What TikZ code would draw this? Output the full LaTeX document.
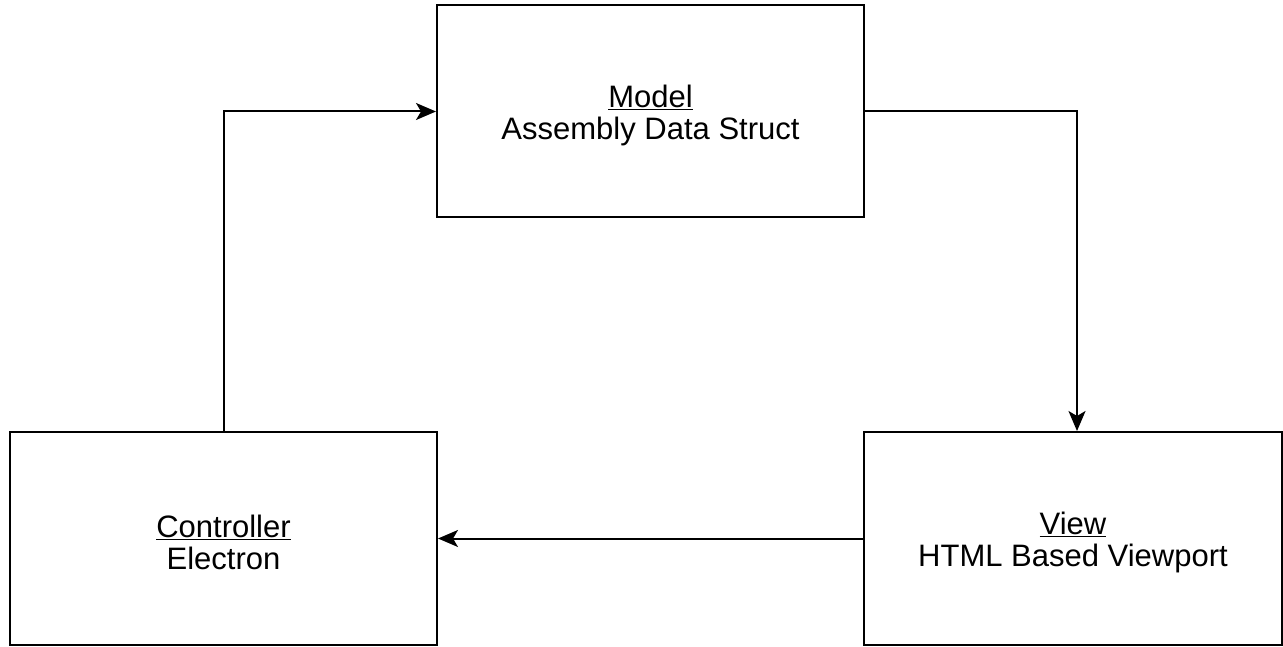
\documentclass[tikz,border=0pt]{standalone}
\usepackage{fontspec}
\setmainfont{Liberation Sans}
\usetikzlibrary{arrows.meta}
\begin{document}
\begin{tikzpicture}[x=1pt,y=-1pt,
  box/.style={draw=black,line width=2pt,inner sep=0pt},
  txt/.style={align=center,font=\fontsize{31}{32}\selectfont,inner sep=0pt},
  conn/.style={draw=black,line width=2pt,-{Stealth[length=20pt,width=17pt,inset=5pt]}}]
\useasboundingbox (0,0) rectangle (1283,647);
\node[box,minimum width=427pt,minimum height=212pt] (model) at (650.5,111.5) {};
\node[box,minimum width=427pt,minimum height=213pt] (ctrl) at (223.5,538.5) {};
\node[box,minimum width=418pt,minimum height=213pt] (view) at (1073,538.5) {};
\node[txt] (modelt) at ([yshift=-4pt]model.center) {\underline{Model}\\Assembly Data Struct};
\node[txt] (ctrlt) at ([yshift=-4pt]ctrl.center) {\underline{Controller}\\Electron};
\node[txt] (viewt) at ([yshift=-4pt]view.center) {\underline{View}\\HTML Based Viewport};
\coordinate (c1) at (224,111.5);
\coordinate (c2) at (1077,111.5);
\draw[conn] (ctrl.north -| c1) -- (c1) -- (model.west);
\draw[conn] (model.east) -- (c2) -- (view.north -| c2);
\draw[conn] (view.west) -- (ctrl.east);
\end{tikzpicture}
\end{document}
